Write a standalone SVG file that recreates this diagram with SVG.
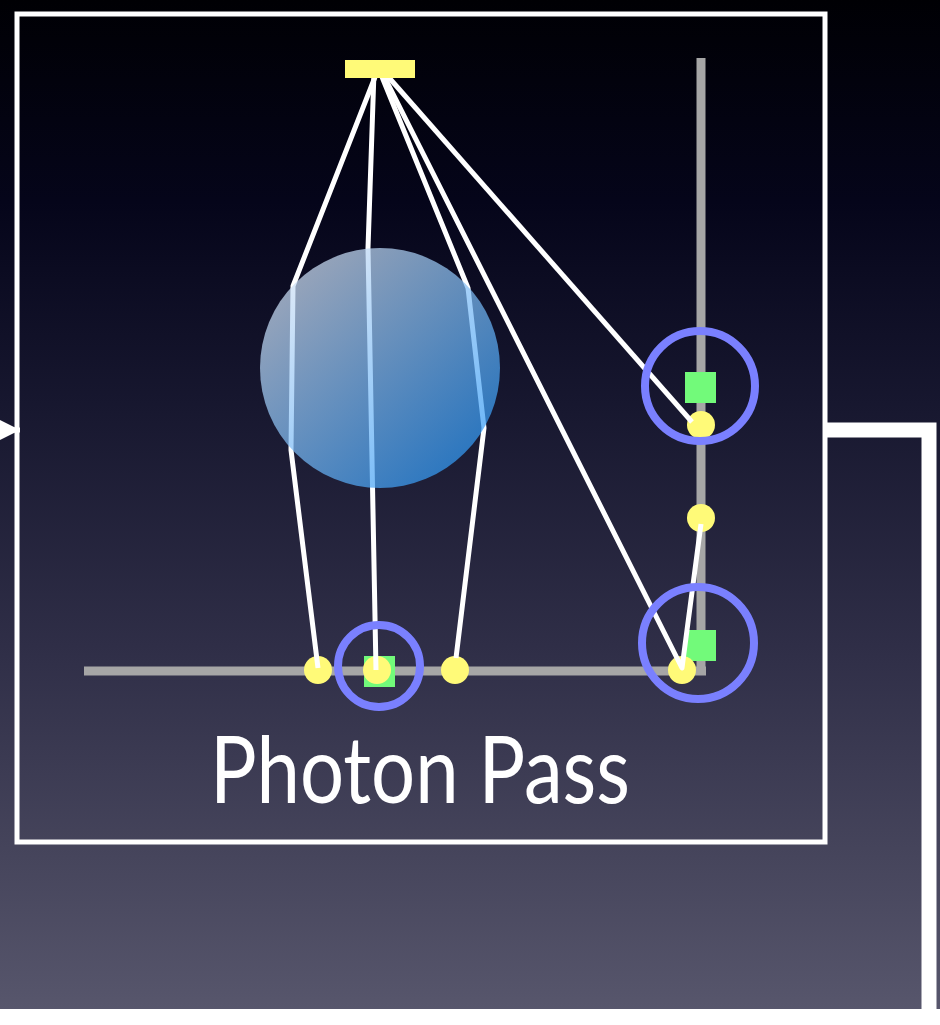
<svg xmlns="http://www.w3.org/2000/svg" width="940" height="1025" viewBox="0 0 940 1025">
  <defs>
    <linearGradient id="bg" x1="0" y1="0" x2="0" y2="1009" gradientUnits="userSpaceOnUse">
      <stop offset="0" stop-color="#000004"/>
      <stop offset="0.2" stop-color="#05051a"/>
      <stop offset="0.4" stop-color="#17172f"/>
      <stop offset="0.65" stop-color="#302f48"/>
      <stop offset="0.85" stop-color="#46455c"/>
      <stop offset="1" stop-color="#57566c"/>
    </linearGradient>
    <linearGradient id="sphere" x1="0.15" y1="0.1" x2="0.85" y2="0.9">
      <stop offset="0" stop-color="#cfe0f5"/>
      <stop offset="1" stop-color="#3099f5"/>
    </linearGradient>
    <marker id="arrow" viewBox="0 0 10 10" refX="10" refY="5" markerWidth="4" markerHeight="4" orient="auto" markerUnits="strokeWidth">
      <path d="M0,0 L10,5 L0,10 z" fill="#ffffff"/>
    </marker>
  </defs>
  <style>
    .ray { stroke: #ffffff; stroke-width: 5; fill: none; stroke-linejoin: round; }
    .axis { stroke: #a6a6a6; stroke-width: 9; fill: none; }
    .dot { fill: #fffa78; }
    .sq { fill: #72fa7a; }
    .ring { fill: none; stroke: #7a80ff; stroke-width: 8; }
    .conn { stroke: #ffffff; fill: none; }
    .label { font-family: "Gill Sans", "Lato", "Liberation Sans", sans-serif; font-size: 94px; fill: #ffffff; }
  </style>

  <rect x="0" y="0" width="940" height="1009" fill="url(#bg)"/>

  <g id="connectors">
    <path class="conn" d="M-40,430 L20,430" stroke-width="5" marker-end="url(#arrow)"/>
    <path class="conn" d="M826,430 H929 V1017 H-10" stroke-width="15"/>
  </g>

  <g id="frame">
    <rect x="17" y="14" width="808" height="828" fill="none" stroke="#ffffff" stroke-width="5"/>
  </g>

  <g id="axes">
    <line class="axis" x1="84" y1="671" x2="706" y2="671"/>
    <line class="axis" x1="701" y1="58" x2="701" y2="675"/>
  </g>

  <g id="dots">
    <circle class="dot" cx="318" cy="670" r="14"/>
    <circle class="dot" cx="455" cy="670" r="14"/>
    <rect class="sq" x="364" y="656" width="31" height="31"/>
    <circle class="dot" cx="377" cy="670" r="14"/>
    <rect class="sq" x="685" y="372" width="31" height="31"/>
    <circle class="dot" cx="701" cy="425" r="14"/>
    <circle class="dot" cx="701" cy="518" r="14"/>
    <rect class="sq" x="685" y="630" width="31" height="31"/>
    <circle class="dot" cx="682" cy="670" r="14"/>
  </g>

  <g id="rays">
    <path class="ray" d="M377,72 L293,286 L291,450 L318,668"/>
    <path class="ray" d="M374,72 L368,248 L376,670"/>
    <path class="ray" d="M380,72 L468,288 L484,428 L456,658"/>
    <path class="ray" d="M382,72 L682,668 L701,524"/>
    <path class="ray" d="M384,72 L692,422"/>
  </g>

  <g id="sphere-node">
    <circle cx="380" cy="368" r="120" fill="url(#sphere)" fill-opacity="0.72"/>
  </g>

  <g id="light">
    <rect x="345" y="60" width="70" height="18" fill="#fffa78"/>
  </g>

  <g id="rings">
    <circle class="ring" cx="379" cy="666" r="41"/>
    <circle class="ring" cx="700" cy="386" r="55"/>
    <circle class="ring" cx="698" cy="643" r="56"/>
  </g>

  <g id="title">
    <text class="label" x="420" y="803" text-anchor="middle" textLength="420" lengthAdjust="spacingAndGlyphs">Photon Pass</text>
  </g>
</svg>
